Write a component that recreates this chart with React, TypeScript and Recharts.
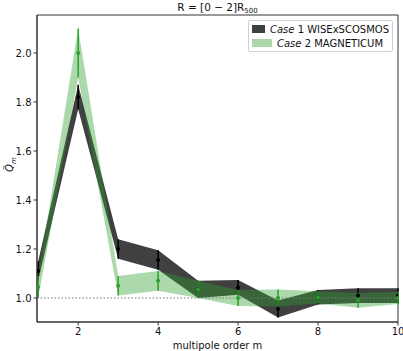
import {
  ComposedChart,
  Area,
  Line,
  ErrorBar,
  XAxis,
  YAxis,
  ReferenceLine,
  ReferenceArea,
} from 'recharts';

const M = [1, 2, 3, 4, 5, 6, 7, 8, 9, 10];
// Case 1 WISExSCOSMOS
const case1Mean = [1.11, 1.82, 1.2, 1.155, 1.035, 1.043, 0.955, 1.003, 1.01, 1.01];
const case1Err = [0.04, 0.05, 0.04, 0.04, 0.035, 0.03, 0.035, 0.03, 0.03, 0.03];
// Case 2 MAGNETICUM
const case2Mean = [1.045, 2.0, 1.05, 1.07, 1.035, 1.0, 1.0, 1.003, 0.99, 1.0];
const case2Err = [0.045, 0.1, 0.04, 0.04, 0.035, 0.033, 0.035, 0.025, 0.03, 0.025];

const X_TICKS = [2, 4, 6, 8, 10];
const Y_TICKS = [1.0, 1.2, 1.4, 1.6, 1.8, 2.0];
const X_DOMAIN = [0.97, 10];
const Y_DOMAIN = [0.902, 2.155];

const FONT = 'DejaVu Sans, sans-serif';
const GREEN = '#2ca02c';

const data = M.map((m, i) => ({
  m,
  band1: [case1Mean[i] - case1Err[i], case1Mean[i] + case1Err[i]],
  mean1: case1Mean[i],
  err1: case1Err[i],
  band2: [case2Mean[i] - case2Err[i], case2Mean[i] + case2Err[i]],
  mean2: case2Mean[i],
  err2: case2Err[i],
}));

// rotated Q-tilde with subscript m
function YLabel() {
  return (
    <g transform="translate(13 172) rotate(-90)" fontFamily={FONT} fill="#111">
      <text x={0} y={0} fontSize={10} fontStyle="italic">Q</text>
      <text x={1.5} y={-7.5} fontSize={7}>~</text>
      <text x={8} y={3} fontSize={7} fontStyle="italic">m</text>
    </g>
  );
}

function LegendBox() {
  const row = (color: string, opacity: number, name: string, label: string) => (
    <div style={{ display: 'flex', alignItems: 'center', height: 14 }}>
      <span
        style={{
          display: 'inline-block',
          width: 20,
          height: 8,
          background: color,
          opacity,
          marginRight: 5,
        }}
      />
      <span>
        <i>{name}</i> {label}
      </span>
    </div>
  );
  return (
    <div
      style={{
        position: 'absolute',
        left: 248,
        top: 20,
        width: 137,
        padding: '1px 3px',
        border: '1px solid #d0d0d0',
        borderRadius: 2,
        background: 'rgba(255,255,255,0.8)',
        fontFamily: FONT,
        fontSize: 10,
        color: '#111',
        whiteSpace: 'nowrap',
      }}
    >
      {row('#000', 0.75, 'Case', '1 WISExSCOSMOS')}
      {row(GREEN, 0.4, 'Case', '2 MAGNETICUM')}
    </div>
  );
}

export default function App() {
  return (
    <div style={{ position: 'absolute', left: 0, top: 0, width: 403, height: 351 }}>
      <div
        style={{
          position: 'absolute',
          left: 37,
          width: 361,
          top: 1,
          textAlign: 'center',
          fontFamily: FONT,
          fontSize: 10.5,
          lineHeight: '12px',
          color: '#111',
        }}
      >
        R = [0 − 2]R
        <span style={{ fontSize: 7, position: 'relative', top: 2 }}>500</span>
      </div>
      <ComposedChart
        width={403}
        height={351}
        data={data}
        margin={{ top: 15, right: 5, left: 0, bottom: 0 }}
      >
        <XAxis
          dataKey="m"
          type="number"
          domain={X_DOMAIN}
          ticks={X_TICKS}
          allowDataOverflow
          height={29}
          stroke="#333"
          tickSize={3.5}
          tick={{ fontSize: 10, fontFamily: FONT, fill: '#111' }}
          label={{
            value: 'multipole order m',
            position: 'insideBottom',
            offset: 2,
            fontSize: 10,
            fontFamily: FONT,
            fill: '#111',
          }}
        />
        <YAxis
          type="number"
          domain={Y_DOMAIN}
          ticks={Y_TICKS}
          allowDataOverflow
          width={37}
          stroke="#333"
          tickSize={3.5}
          tickFormatter={(v: number) => v.toFixed(1)}
          tick={{ fontSize: 10, fontFamily: FONT, fill: '#111' }}
          label={<YLabel />}
        />
        <ReferenceLine y={1} stroke="#777" strokeDasharray="1.5 2" strokeWidth={1} />
        <Area
          type="linear"
          dataKey="band1"
          stroke="none"
          fill="#000"
          fillOpacity={0.75}
          isAnimationActive={false}
        />
        <Area
          type="linear"
          dataKey="band2"
          stroke="none"
          fill={GREEN}
          fillOpacity={0.4}
          isAnimationActive={false}
        />
        <Line
          dataKey="mean1"
          stroke="none"
          strokeWidth={0}
          dot={{ r: 2, fill: '#000', stroke: 'none' }}
          activeDot={false}
          isAnimationActive={false}
        >
          <ErrorBar dataKey="err1" direction="y" width={0} stroke="#000" strokeWidth={1.5} />
        </Line>
        <Line
          dataKey="mean2"
          stroke="none"
          strokeWidth={0}
          dot={{ r: 2, fill: GREEN, stroke: 'none' }}
          activeDot={false}
          isAnimationActive={false}
        >
          <ErrorBar dataKey="err2" direction="y" width={0} stroke={GREEN} strokeWidth={1.5} />
        </Line>
        {/* plot frame (top and right spines) */}
        <ReferenceArea
          x1={X_DOMAIN[0]}
          x2={X_DOMAIN[1]}
          y1={Y_DOMAIN[0]}
          y2={Y_DOMAIN[1]}
          fill="none"
          fillOpacity={0}
          stroke="#333"
          strokeWidth={1}
        />
      </ComposedChart>
      <LegendBox />
    </div>
  );
}
